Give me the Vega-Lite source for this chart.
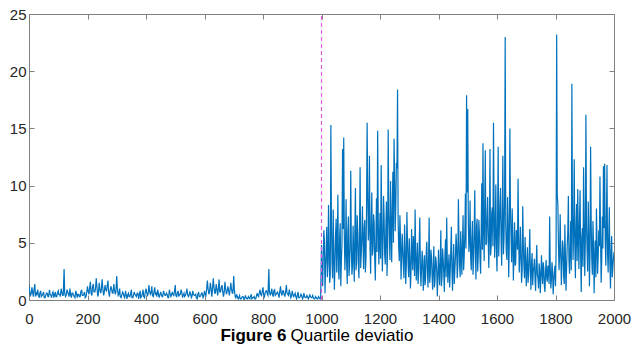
{
  "$schema": "https://vega.github.io/schema/vega-lite/v6.json",
  "width": 585,
  "height": 286,
  "autosize": "none",
  "padding": {"left": 29, "top": 14, "right": 19, "bottom": 49},
  "background": "white",
  "config": {
    "view": {"stroke": "#808080", "strokeWidth": 1},
    "axis": {
      "domain": false,
      "grid": false,
      "tickColor": "#808080",
      "tickSize": -5,
      "labelFont": "Liberation Sans",
      "labelFontSize": 15,
      "labelColor": "#262626"
    }
  },
  "datasets": {
    "d": [
      {"x":0,"y":1.3},{"x":5,"y":0.4},{"x":10,"y":1.1},{"x":15,"y":0.3},{"x":20,"y":1.4},{"x":25,"y":0.6},{"x":30,"y":0.9},{"x":35,"y":0.2},{"x":40,"y":0.8},{"x":45,"y":0.4},
      {"x":50,"y":0.7},{"x":55,"y":0.2},{"x":60,"y":0.6},{"x":65,"y":0.3},{"x":70,"y":0.9},{"x":75,"y":0.4},{"x":80,"y":0.6},{"x":85,"y":0.2},{"x":90,"y":0.7},{"x":95,"y":0.3},
      {"x":100,"y":0.8},{"x":105,"y":0.5},{"x":110,"y":1.0},{"x":115,"y":0.4},{"x":120,"y":2.7},{"x":125,"y":0.3},{"x":130,"y":0.9},{"x":135,"y":0.5},{"x":140,"y":1.0},{"x":145,"y":0.2},
      {"x":150,"y":0.6},{"x":155,"y":0.3},{"x":160,"y":0.8},{"x":165,"y":0.2},{"x":170,"y":0.5},{"x":175,"y":0.3},{"x":180,"y":0.9},{"x":185,"y":0.4},{"x":190,"y":0.7},{"x":195,"y":0.3},
      {"x":200,"y":1.2},{"x":205,"y":0.5},{"x":210,"y":1.6},{"x":215,"y":0.4},{"x":220,"y":1.4},{"x":225,"y":0.7},{"x":230,"y":1.9},{"x":235,"y":0.3},{"x":240,"y":1.5},{"x":245,"y":0.6},
      {"x":250,"y":1.8},{"x":255,"y":0.4},{"x":260,"y":1.3},{"x":265,"y":0.8},{"x":270,"y":1.7},{"x":275,"y":0.3},{"x":280,"y":1.2},{"x":285,"y":0.6},{"x":290,"y":1.4},{"x":295,"y":0.5},
      {"x":300,"y":2.1},{"x":305,"y":0.4},{"x":310,"y":1.0},{"x":315,"y":0.2},{"x":320,"y":0.7},{"x":325,"y":0.3},{"x":330,"y":0.8},{"x":335,"y":0.1},{"x":340,"y":0.6},{"x":345,"y":0.3},
      {"x":350,"y":0.9},{"x":355,"y":0.2},{"x":360,"y":0.7},{"x":365,"y":0.4},{"x":370,"y":0.6},{"x":375,"y":0.1},{"x":380,"y":0.8},{"x":385,"y":0.3},{"x":390,"y":0.9},{"x":395,"y":0.2},
      {"x":400,"y":1.0},{"x":405,"y":0.4},{"x":410,"y":1.3},{"x":415,"y":0.5},{"x":420,"y":1.2},{"x":425,"y":0.3},{"x":430,"y":1.1},{"x":435,"y":0.6},{"x":440,"y":0.9},{"x":445,"y":0.2},
      {"x":450,"y":0.7},{"x":455,"y":0.3},{"x":460,"y":0.8},{"x":465,"y":0.4},{"x":470,"y":0.6},{"x":475,"y":0.2},{"x":480,"y":0.9},{"x":485,"y":0.3},{"x":490,"y":0.7},{"x":495,"y":0.4},
      {"x":500,"y":1.3},{"x":505,"y":0.3},{"x":510,"y":0.8},{"x":515,"y":0.5},{"x":520,"y":0.9},{"x":525,"y":0.2},{"x":530,"y":0.6},{"x":535,"y":0.4},{"x":540,"y":1.0},{"x":545,"y":0.3},
      {"x":550,"y":0.7},{"x":555,"y":0.2},{"x":560,"y":0.8},{"x":565,"y":0.4},{"x":570,"y":0.5},{"x":575,"y":0.1},{"x":580,"y":0.7},{"x":585,"y":0.3},{"x":590,"y":0.6},{"x":595,"y":0.2},
      {"x":600,"y":0.8},{"x":605,"y":0.4},{"x":610,"y":1.7},{"x":615,"y":0.5},{"x":620,"y":1.5},{"x":625,"y":0.3},{"x":630,"y":1.9},{"x":635,"y":0.6},{"x":640,"y":1.4},{"x":645,"y":0.4},
      {"x":650,"y":1.8},{"x":655,"y":0.7},{"x":660,"y":1.3},{"x":665,"y":0.3},{"x":670,"y":1.6},{"x":675,"y":0.5},{"x":680,"y":1.2},{"x":685,"y":0.4},{"x":690,"y":1.5},{"x":695,"y":0.6},
      {"x":700,"y":2.1},{"x":705,"y":0.3},{"x":710,"y":0.5},{"x":715,"y":0.1},{"x":720,"y":0.4},{"x":725,"y":0.1},{"x":730,"y":0.3},{"x":735,"y":0.05},{"x":740,"y":0.4},{"x":745,"y":0.1},
      {"x":750,"y":0.3},{"x":755,"y":0.1},{"x":760,"y":0.5},{"x":765,"y":0.2},{"x":770,"y":0.3},{"x":775,"y":0.1},{"x":780,"y":0.6},{"x":785,"y":0.3},{"x":790,"y":0.9},{"x":795,"y":0.4},
      {"x":800,"y":1.1},{"x":805,"y":0.3},{"x":810,"y":0.8},{"x":815,"y":0.5},{"x":820,"y":2.7},{"x":825,"y":0.4},{"x":830,"y":1.0},{"x":835,"y":0.3},{"x":840,"y":0.9},{"x":845,"y":0.5},
      {"x":850,"y":0.7},{"x":855,"y":0.2},{"x":860,"y":1.2},{"x":865,"y":0.4},{"x":870,"y":0.8},{"x":875,"y":0.3},{"x":880,"y":1.3},{"x":885,"y":0.5},{"x":890,"y":0.9},{"x":895,"y":0.2},
      {"x":900,"y":0.8},{"x":905,"y":0.3},{"x":910,"y":0.6},{"x":915,"y":0.1},{"x":920,"y":0.7},{"x":925,"y":0.2},{"x":930,"y":0.5},{"x":935,"y":0.1},{"x":940,"y":0.6},{"x":945,"y":0.2},
      {"x":950,"y":0.4},{"x":955,"y":0.1},{"x":960,"y":0.5},{"x":965,"y":0.2},{"x":970,"y":0.4},{"x":975,"y":0.1},{"x":980,"y":0.3},{"x":985,"y":0.1},{"x":990,"y":0.3},{"x":995,"y":0.1},
      {"x":2,"y":0.8},{"x":7,"y":0.5},{"x":12,"y":0.7},{"x":17,"y":0.9},
      {"x":22,"y":0.3},{"x":27,"y":0.5},{"x":32,"y":0.4},{"x":37,"y":0.6},{"x":42,"y":0.3},{"x":47,"y":0.5},{"x":52,"y":0.2},{"x":57,"y":0.4},{"x":62,"y":0.6},{"x":67,"y":0.3},
      {"x":72,"y":0.5},{"x":77,"y":0.2},{"x":82,"y":0.7},{"x":87,"y":0.4},{"x":92,"y":0.3},{"x":97,"y":0.6},{"x":102,"y":0.5},{"x":107,"y":0.3},{"x":112,"y":0.7},{"x":117,"y":0.4},
      {"x":122,"y":0.6},{"x":127,"y":0.4},{"x":132,"y":0.7},{"x":137,"y":0.3},{"x":142,"y":0.5},{"x":147,"y":0.6},{"x":152,"y":0.4},{"x":157,"y":0.2},{"x":162,"y":0.6},{"x":167,"y":0.5},
      {"x":172,"y":0.3},{"x":177,"y":0.7},{"x":182,"y":0.4},{"x":187,"y":0.5},{"x":192,"y":0.2},{"x":197,"y":0.6},
      {"x":202,"y":0.8},{"x":207,"y":1.0},{"x":212,"y":0.6},{"x":217,"y":1.1},{"x":222,"y":0.7},{"x":227,"y":0.9},{"x":232,"y":1.2},{"x":237,"y":0.5},{"x":242,"y":1.0},{"x":247,"y":0.8},
      {"x":252,"y":1.1},{"x":257,"y":0.6},{"x":262,"y":0.9},{"x":267,"y":1.2},{"x":272,"y":0.7},{"x":277,"y":0.8},{"x":282,"y":1.0},{"x":287,"y":0.6},{"x":292,"y":0.9},{"x":297,"y":0.7},{"x":302,"y":1.0},
      {"x":307,"y":0.5},{"x":312,"y":0.3},{"x":317,"y":0.4},{"x":322,"y":0.6},{"x":327,"y":0.2},{"x":332,"y":0.5},{"x":337,"y":0.4},{"x":342,"y":0.3},{"x":347,"y":0.5},{"x":352,"y":0.2},
      {"x":357,"y":0.4},{"x":362,"y":0.5},{"x":367,"y":0.3},{"x":372,"y":0.6},{"x":377,"y":0.4},{"x":382,"y":0.2},{"x":387,"y":0.5},{"x":392,"y":0.3},{"x":397,"y":0.6},
      {"x":402,"y":0.7},{"x":407,"y":0.5},{"x":412,"y":0.8},{"x":417,"y":0.6},{"x":422,"y":0.4},{"x":427,"y":0.7},{"x":432,"y":0.5},{"x":437,"y":0.3},{"x":442,"y":0.6},{"x":447,"y":0.4},
      {"x":452,"y":0.5},{"x":457,"y":0.3},{"x":462,"y":0.6},{"x":467,"y":0.4},{"x":472,"y":0.5},{"x":477,"y":0.2},{"x":482,"y":0.6},{"x":487,"y":0.4},{"x":492,"y":0.5},{"x":497,"y":0.7},
      {"x":502,"y":0.4},{"x":507,"y":0.6},{"x":512,"y":0.3},{"x":517,"y":0.5},{"x":522,"y":0.7},{"x":527,"y":0.4},{"x":532,"y":0.3},{"x":537,"y":0.6},{"x":542,"y":0.5},{"x":547,"y":0.4},
      {"x":552,"y":0.6},{"x":557,"y":0.3},{"x":562,"y":0.5},{"x":567,"y":0.4},{"x":572,"y":0.2},{"x":577,"y":0.5},{"x":582,"y":0.3},{"x":587,"y":0.4},{"x":592,"y":0.6},{"x":597,"y":0.3},{"x":602,"y":0.5},
      {"x":607,"y":0.9},{"x":612,"y":1.0},{"x":617,"y":0.7},{"x":622,"y":1.1},{"x":627,"y":0.8},{"x":632,"y":1.2},{"x":637,"y":0.6},{"x":642,"y":1.0},{"x":647,"y":0.9},{"x":652,"y":0.7},
      {"x":657,"y":1.1},{"x":662,"y":0.8},{"x":667,"y":0.6},{"x":672,"y":1.0},{"x":677,"y":0.7},{"x":682,"y":0.9},{"x":687,"y":0.8},{"x":692,"y":1.0},{"x":697,"y":0.6},{"x":702,"y":0.9},
      {"x":707,"y":0.2},{"x":712,"y":0.3},{"x":717,"y":0.2},{"x":722,"y":0.1},{"x":727,"y":0.2},{"x":732,"y":0.3},{"x":737,"y":0.1},{"x":742,"y":0.2},{"x":747,"y":0.1},{"x":752,"y":0.2},
      {"x":757,"y":0.3},{"x":762,"y":0.1},{"x":767,"y":0.2},{"x":772,"y":0.1},{"x":777,"y":0.3},
      {"x":782,"y":0.4},{"x":787,"y":0.6},{"x":792,"y":0.5},{"x":797,"y":0.7},{"x":802,"y":0.5},{"x":807,"y":0.6},{"x":812,"y":0.8},{"x":817,"y":0.4},{"x":822,"y":0.7},{"x":827,"y":0.6},
      {"x":832,"y":0.5},{"x":837,"y":0.8},{"x":842,"y":0.4},{"x":847,"y":0.6},{"x":852,"y":0.5},{"x":857,"y":0.7},{"x":862,"y":0.6},{"x":867,"y":0.8},{"x":872,"y":0.5},{"x":877,"y":0.7},
      {"x":882,"y":0.6},{"x":887,"y":0.4},{"x":892,"y":0.6},{"x":897,"y":0.3},{"x":902,"y":0.5},
      {"x":907,"y":0.4},{"x":912,"y":0.3},{"x":917,"y":0.4},{"x":922,"y":0.2},{"x":927,"y":0.3},{"x":932,"y":0.4},{"x":937,"y":0.2},{"x":942,"y":0.3},{"x":947,"y":0.2},{"x":952,"y":0.3},
      {"x":957,"y":0.2},{"x":962,"y":0.3},{"x":967,"y":0.2},{"x":972,"y":0.2},{"x":977,"y":0.1},{"x":982,"y":0.2},{"x":987,"y":0.1},{"x":992,"y":0.2},{"x":997,"y":0.1},
      {"x":1000,"y":4.8},{"x":1004,"y":1.2},{"x":1008,"y":6.1},{"x":1012,"y":0.6},{"x":1016,"y":4.2},{"x":1020,"y":2.0},{"x":1024,"y":8.3},{"x":1028,"y":1.5},{"x":1032,"y":15.3},{"x":1036,"y":3.2},
      {"x":1040,"y":7.9},{"x":1044,"y":0.9},{"x":1048,"y":5.6},{"x":1052,"y":2.4},{"x":1056,"y":9.2},{"x":1060,"y":1.8},{"x":1064,"y":6.7},{"x":1068,"y":3.5},{"x":1072,"y":13.2},{"x":1076,"y":14.2},
      {"x":1080,"y":2.6},{"x":1084,"y":8.8},{"x":1088,"y":1.4},{"x":1092,"y":7.3},{"x":1096,"y":3.0},
      {"x":1100,"y":11.3},{"x":1104,"y":2.2},{"x":1108,"y":6.5},{"x":1112,"y":1.6},{"x":1116,"y":9.8},{"x":1120,"y":3.4},{"x":1124,"y":5.9},{"x":1128,"y":1.9},{"x":1132,"y":11.6},{"x":1136,"y":4.1},
      {"x":1140,"y":8.2},{"x":1144,"y":2.7},{"x":1148,"y":7.0},{"x":1152,"y":3.6},{"x":1156,"y":15.5},{"x":1160,"y":5.2},{"x":1164,"y":12.6},{"x":1168,"y":2.3},{"x":1172,"y":9.4},{"x":1176,"y":4.4},
      {"x":1180,"y":6.8},{"x":1184,"y":1.7},{"x":1188,"y":8.9},{"x":1192,"y":14.8},{"x":1196,"y":3.1},
      {"x":1200,"y":7.6},{"x":1204,"y":11.8},{"x":1208,"y":2.5},{"x":1212,"y":9.1},{"x":1216,"y":4.0},{"x":1220,"y":6.3},{"x":1224,"y":2.1},{"x":1228,"y":14.9},{"x":1232,"y":5.5},{"x":1236,"y":10.4},
      {"x":1240,"y":3.3},{"x":1244,"y":11.2},{"x":1248,"y":14.1},{"x":1252,"y":6.0},{"x":1256,"y":12.0},{"x":1260,"y":18.4},{"x":1264,"y":4.6},{"x":1268,"y":7.4},{"x":1272,"y":1.8},{"x":1276,"y":5.8},
      {"x":1280,"y":2.9},{"x":1284,"y":6.6},{"x":1288,"y":1.4},{"x":1292,"y":7.7},{"x":1296,"y":3.2},
      {"x":1300,"y":5.4},{"x":1304,"y":1.0},{"x":1308,"y":6.2},{"x":1312,"y":2.6},{"x":1316,"y":4.5},{"x":1320,"y":7.9},{"x":1324,"y":1.7},{"x":1328,"y":5.0},{"x":1332,"y":2.2},{"x":1336,"y":7.2},
      {"x":1340,"y":1.2},{"x":1344,"y":4.3},{"x":1348,"y":0.8},{"x":1352,"y":3.9},{"x":1356,"y":2.0},{"x":1360,"y":5.1},{"x":1364,"y":1.1},{"x":1368,"y":7.2},{"x":1372,"y":2.3},{"x":1376,"y":3.8},
      {"x":1380,"y":0.9},{"x":1384,"y":4.7},{"x":1388,"y":1.6},{"x":1392,"y":3.4},{"x":1396,"y":0.3},
      {"x":1400,"y":4.4},{"x":1404,"y":1.3},{"x":1408,"y":6.1},{"x":1412,"y":2.0},{"x":1416,"y":3.6},{"x":1420,"y":0.7},{"x":1424,"y":5.3},{"x":1428,"y":7.2},{"x":1432,"y":1.5},{"x":1436,"y":4.0},
      {"x":1440,"y":2.4},{"x":1444,"y":6.4},{"x":1448,"y":0.8},{"x":1452,"y":4.9},{"x":1456,"y":2.7},{"x":1460,"y":5.8},{"x":1464,"y":1.9},{"x":1468,"y":8.8},{"x":1472,"y":3.1},{"x":1476,"y":6.0},
      {"x":1480,"y":2.2},{"x":1484,"y":7.4},{"x":1488,"y":3.9},{"x":1492,"y":9.3},{"x":1496,"y":17.9},
      {"x":1500,"y":16.7},{"x":1504,"y":4.2},{"x":1508,"y":8.7},{"x":1512,"y":2.6},{"x":1516,"y":6.9},{"x":1520,"y":3.5},{"x":1524,"y":9.6},{"x":1528,"y":1.8},{"x":1532,"y":7.1},{"x":1536,"y":4.0},
      {"x":1540,"y":5.7},{"x":1544,"y":2.3},{"x":1548,"y":10.2},{"x":1552,"y":13.7},{"x":1556,"y":3.4},{"x":1560,"y":13.1},{"x":1564,"y":5.0},{"x":1568,"y":9.0},{"x":1572,"y":2.8},{"x":1576,"y":13.2},
      {"x":1580,"y":4.6},{"x":1584,"y":8.1},{"x":1588,"y":15.5},{"x":1592,"y":3.7},{"x":1596,"y":10.1},
      {"x":1600,"y":2.5},{"x":1604,"y":13.4},{"x":1608,"y":6.2},{"x":1612,"y":9.8},{"x":1616,"y":3.0},{"x":1620,"y":12.6},{"x":1624,"y":5.4},{"x":1628,"y":23.0},{"x":1632,"y":4.1},{"x":1636,"y":9.0},
      {"x":1640,"y":2.0},{"x":1644,"y":15.0},{"x":1648,"y":5.6},{"x":1652,"y":8.0},{"x":1656,"y":1.7},{"x":1660,"y":6.8},{"x":1664,"y":3.2},{"x":1668,"y":5.9},{"x":1672,"y":10.6},{"x":1676,"y":2.4},
      {"x":1680,"y":6.4},{"x":1684,"y":1.5},{"x":1688,"y":8.2},{"x":1692,"y":3.0},{"x":1696,"y":5.5},
      {"x":1700,"y":1.2},{"x":1704,"y":4.6},{"x":1708,"y":2.2},{"x":1712,"y":6.2},{"x":1716,"y":0.9},{"x":1720,"y":4.1},{"x":1724,"y":2.5},{"x":1728,"y":3.6},{"x":1732,"y":0.8},{"x":1736,"y":4.8},
      {"x":1740,"y":1.9},{"x":1744,"y":3.2},{"x":1748,"y":0.6},{"x":1752,"y":3.9},{"x":1756,"y":1.4},{"x":1760,"y":2.8},{"x":1764,"y":0.7},{"x":1768,"y":3.5},{"x":1772,"y":1.6},{"x":1776,"y":2.7},
      {"x":1780,"y":7.3},{"x":1784,"y":1.0},{"x":1788,"y":3.3},{"x":1792,"y":0.5},{"x":1796,"y":2.4},
      {"x":1800,"y":1.2},{"x":1804,"y":23.2},{"x":1808,"y":8.4},{"x":1812,"y":2.6},{"x":1816,"y":7.5},{"x":1820,"y":1.3},{"x":1824,"y":5.2},{"x":1828,"y":2.0},{"x":1832,"y":6.6},{"x":1836,"y":0.8},
      {"x":1840,"y":4.7},{"x":1844,"y":9.1},{"x":1848,"y":2.3},{"x":1852,"y":6.9},{"x":1856,"y":18.9},{"x":1860,"y":3.5},{"x":1864,"y":12.3},{"x":1868,"y":1.9},{"x":1872,"y":8.4},{"x":1876,"y":9.7},
      {"x":1880,"y":2.7},{"x":1884,"y":9.6},{"x":1888,"y":0.7},{"x":1892,"y":6.3},{"x":1896,"y":11.6},
      {"x":1900,"y":2.1},{"x":1904,"y":16.2},{"x":1908,"y":4.4},{"x":1912,"y":8.6},{"x":1916,"y":1.2},{"x":1920,"y":13.4},{"x":1924,"y":3.6},{"x":1928,"y":6.9},{"x":1932,"y":0.6},{"x":1936,"y":5.2},
      {"x":1940,"y":8.0},{"x":1944,"y":2.3},{"x":1948,"y":6.1},{"x":1952,"y":10.8},{"x":1956,"y":1.5},{"x":1960,"y":7.3},{"x":1964,"y":11.7},{"x":1968,"y":11.9},{"x":1972,"y":3.0},{"x":1976,"y":11.8},
      {"x":1980,"y":2.4},{"x":1984,"y":8.1},{"x":1988,"y":1.0},{"x":1992,"y":5.6},{"x":1996,"y":2.8},{"x":2000,"y":4.2},
      {"x":1002,"y":2.5},{"x":1006,"y":3.8},{"x":1010,"y":5.2},{"x":1014,"y":2.9},{"x":1018,"y":6.4},{"x":1022,"y":3.1},{"x":1026,"y":4.6},{"x":1030,"y":2.2},{"x":1034,"y":6.9},{"x":1038,"y":1.9},
      {"x":1042,"y":4.4},{"x":1046,"y":3.0},{"x":1050,"y":7.1},{"x":1054,"y":4.8},{"x":1058,"y":2.6},{"x":1062,"y":5.5},{"x":1066,"y":1.2},{"x":1070,"y":4.9},{"x":1074,"y":6.2},{"x":1078,"y":5.8},
      {"x":1082,"y":4.3},{"x":1086,"y":3.3},{"x":1090,"y":6.0},{"x":1094,"y":2.1},{"x":1098,"y":5.0},
      {"x":1102,"y":4.7},{"x":1106,"y":3.0},{"x":1110,"y":4.1},{"x":1114,"y":5.9},{"x":1118,"y":2.6},{"x":1122,"y":7.4},{"x":1126,"y":3.2},{"x":1130,"y":6.1},{"x":1134,"y":2.8},{"x":1138,"y":5.6},
      {"x":1142,"y":4.9},{"x":1146,"y":6.3},{"x":1150,"y":2.4},{"x":1154,"y":8.0},{"x":1158,"y":9.6},{"x":1162,"y":6.2},{"x":1166,"y":4.5},{"x":1170,"y":6.8},{"x":1174,"y":3.9},{"x":1178,"y":7.5},
      {"x":1182,"y":3.6},{"x":1186,"y":5.3},{"x":1190,"y":4.2},{"x":1194,"y":7.0},{"x":1198,"y":5.1},
      {"x":1202,"y":3.6},{"x":1206,"y":6.9},{"x":1210,"y":4.8},{"x":1214,"y":7.3},{"x":1218,"y":3.1},{"x":1222,"y":8.6},{"x":1226,"y":4.4},{"x":1230,"y":7.8},{"x":1234,"y":3.5},{"x":1238,"y":6.2},
      {"x":1242,"y":8.1},{"x":1246,"y":5.0},{"x":1250,"y":10.6},{"x":1254,"y":8.2},{"x":1258,"y":11.5},{"x":1262,"y":6.8},{"x":1266,"y":3.4},{"x":1270,"y":5.5},{"x":1274,"y":3.9},{"x":1278,"y":4.3},
      {"x":1282,"y":1.9},{"x":1286,"y":4.6},{"x":1290,"y":3.0},{"x":1294,"y":5.1},{"x":1298,"y":2.0},
      {"x":1302,"y":3.7},{"x":1306,"y":2.4},{"x":1310,"y":4.0},{"x":1314,"y":5.6},{"x":1318,"y":2.1},{"x":1322,"y":4.2},{"x":1326,"y":3.3},{"x":1330,"y":1.4},{"x":1334,"y":4.6},{"x":1338,"y":3.0},
      {"x":1342,"y":2.7},{"x":1346,"y":3.5},{"x":1350,"y":2.2},{"x":1354,"y":1.3},{"x":1358,"y":4.1},{"x":1362,"y":2.8},{"x":1366,"y":3.3},{"x":1370,"y":1.5},{"x":1374,"y":4.4},{"x":1378,"y":2.1},
      {"x":1382,"y":3.0},{"x":1386,"y":1.1},{"x":1390,"y":3.8},{"x":1394,"y":2.5},{"x":1398,"y":1.9},
      {"x":1402,"y":2.6},{"x":1406,"y":3.4},{"x":1410,"y":1.2},{"x":1414,"y":4.5},{"x":1418,"y":2.3},{"x":1422,"y":3.9},{"x":1426,"y":2.0},{"x":1430,"y":3.6},{"x":1434,"y":2.9},{"x":1438,"y":1.1},
      {"x":1442,"y":4.3},{"x":1446,"y":2.5},{"x":1450,"y":3.3},{"x":1454,"y":1.4},{"x":1458,"y":3.8},{"x":1462,"y":4.6},{"x":1466,"y":2.9},{"x":1470,"y":5.2},{"x":1474,"y":2.0},{"x":1478,"y":4.1},
      {"x":1482,"y":5.0},{"x":1486,"y":2.6},{"x":1490,"y":5.8},{"x":1494,"y":4.5},{"x":1498,"y":9.4},
      {"x":1502,"y":6.8},{"x":1506,"y":5.1},{"x":1510,"y":3.7},{"x":1514,"y":5.4},{"x":1518,"y":2.2},{"x":1522,"y":5.9},{"x":1526,"y":4.3},{"x":1530,"y":6.4},{"x":1534,"y":2.5},{"x":1538,"y":7.0},
      {"x":1542,"y":3.6},{"x":1546,"y":6.1},{"x":1550,"y":4.4},{"x":1554,"y":6.6},{"x":1558,"y":8.3},{"x":1562,"y":4.8},{"x":1566,"y":7.2},{"x":1570,"y":5.3},{"x":1574,"y":6.0},{"x":1578,"y":3.9},
      {"x":1582,"y":7.6},{"x":1586,"y":4.7},{"x":1590,"y":7.9},{"x":1594,"y":6.1},{"x":1598,"y":4.5},
      {"x":1602,"y":7.0},{"x":1606,"y":3.8},{"x":1610,"y":8.4},{"x":1614,"y":5.2},{"x":1618,"y":7.5},{"x":1622,"y":4.0},{"x":1626,"y":8.9},{"x":1630,"y":6.4},{"x":1634,"y":3.5},{"x":1638,"y":6.6},
      {"x":1642,"y":4.9},{"x":1646,"y":7.8},{"x":1650,"y":3.3},{"x":1654,"y":5.4},{"x":1658,"y":4.2},{"x":1662,"y":3.0},{"x":1666,"y":6.1},{"x":1670,"y":4.4},{"x":1674,"y":5.6},{"x":1678,"y":3.8},
      {"x":1682,"y":4.0},{"x":1686,"y":2.6},{"x":1690,"y":4.9},{"x":1694,"y":1.9},{"x":1698,"y":3.4},
      {"x":1702,"y":3.0},{"x":1706,"y":1.5},{"x":1710,"y":3.8},{"x":1714,"y":2.6},{"x":1718,"y":3.2},{"x":1722,"y":1.3},{"x":1726,"y":2.9},{"x":1730,"y":1.8},{"x":1734,"y":3.1},{"x":1738,"y":2.2},
      {"x":1742,"y":1.0},{"x":1746,"y":2.6},{"x":1750,"y":1.9},{"x":1754,"y":2.4},{"x":1758,"y":3.3},{"x":1762,"y":1.2},{"x":1766,"y":2.5},{"x":1770,"y":1.9},{"x":1774,"y":3.0},{"x":1778,"y":1.4},
      {"x":1782,"y":2.9},{"x":1786,"y":1.8},{"x":1790,"y":2.5},{"x":1794,"y":1.6},{"x":1798,"y":3.0},
      {"x":1802,"y":4.1},{"x":1806,"y":9.2},{"x":1810,"y":5.0},{"x":1814,"y":3.9},{"x":1818,"y":4.3},{"x":1822,"y":3.1},{"x":1826,"y":4.6},{"x":1830,"y":1.4},{"x":1834,"y":3.7},{"x":1838,"y":2.9},
      {"x":1842,"y":5.9},{"x":1846,"y":3.5},{"x":1850,"y":4.4},{"x":1854,"y":2.6},{"x":1858,"y":7.3},{"x":1862,"y":6.0},{"x":1866,"y":5.1},{"x":1870,"y":6.2},{"x":1874,"y":3.4},{"x":1878,"y":5.8},
      {"x":1882,"y":6.9},{"x":1886,"y":3.8},{"x":1890,"y":5.5},{"x":1894,"y":2.9},{"x":1898,"y":6.7},
      {"x":1902,"y":5.3},{"x":1906,"y":6.5},{"x":1910,"y":2.5},{"x":1914,"y":5.9},{"x":1918,"y":4.0},{"x":1922,"y":6.8},{"x":1926,"y":2.2},{"x":1930,"y":4.9},{"x":1934,"y":3.6},{"x":1938,"y":2.0},
      {"x":1942,"y":5.0},{"x":1946,"y":3.9},{"x":1950,"y":4.7},{"x":1954,"y":5.6},{"x":1958,"y":3.4},{"x":1962,"y":4.5},{"x":1966,"y":6.3},{"x":1970,"y":5.2},{"x":1974,"y":6.7},{"x":1978,"y":4.1},
      {"x":1982,"y":5.5},{"x":1986,"y":3.2},{"x":1990,"y":4.3},{"x":1994,"y":2.0},{"x":1998,"y":3.6}
    ]
  },
  "layer": [
    {
      "data": {"name": "d"},
      "mark": {"type": "line", "stroke": "#0072BD", "strokeWidth": 1.2, "clip": true},
      "encoding": {
        "x": {
          "field": "x", "type": "quantitative",
          "scale": {"domain": [0, 2000], "nice": false, "zero": false},
          "axis": {
            "values": [0,200,400,600,800,1000,1200,1400,1600,1800,2000],
            "format": "d",
            "labelPadding": 16,
            "labelFlush": false,
            "title": "Quartile deviatio",
            "titleFont": "Liberation Sans",
            "titleFontSize": 17,
            "titleFontWeight": "normal",
            "titleColor": "#000000",
            "titleAlign": "left",
            "titleBaseline": "alphabetic",
            "titleX": 261,
            "titleY": 40
          }
        },
        "y": {
          "field": "y", "type": "quantitative",
          "scale": {"domain": [0, 25], "nice": false, "zero": true},
          "axis": {
            "values": [0,5,10,15,20,25],
            "labelPadding": 8,
            "labelFlush": false,
            "title": "Figure 6",
            "titleFont": "Liberation Sans",
            "titleFontSize": 17,
            "titleFontWeight": "bold",
            "titleColor": "#000000",
            "titleAngle": 0,
            "titleAlign": "right",
            "titleBaseline": "alphabetic",
            "titleX": 257,
            "titleY": 326
          }
        }
      }
    },
    {
      "data": {"values": [{"x": 1000}]},
      "mark": {"type": "rule", "stroke": "#e05ce0", "strokeWidth": 1.2, "strokeDash": [4, 3], "opacity": 1},
      "encoding": {
        "x": {
          "field": "x", "type": "quantitative",
          "axis": {"orient": "top", "labels": false, "title": null, "values": [0,200,400,600,800,1000,1200,1400,1600,1800,2000]}
        },
        "y": {
          "datum": 0, "type": "quantitative",
          "axis": {"orient": "right", "labels": false, "title": null, "values": [0,5,10,15,20,25]}
        },
        "y2": {"datum": 25}
      }
    }
  ],
  "resolve": {"axis": {"x": "independent", "y": "independent"}}
}
